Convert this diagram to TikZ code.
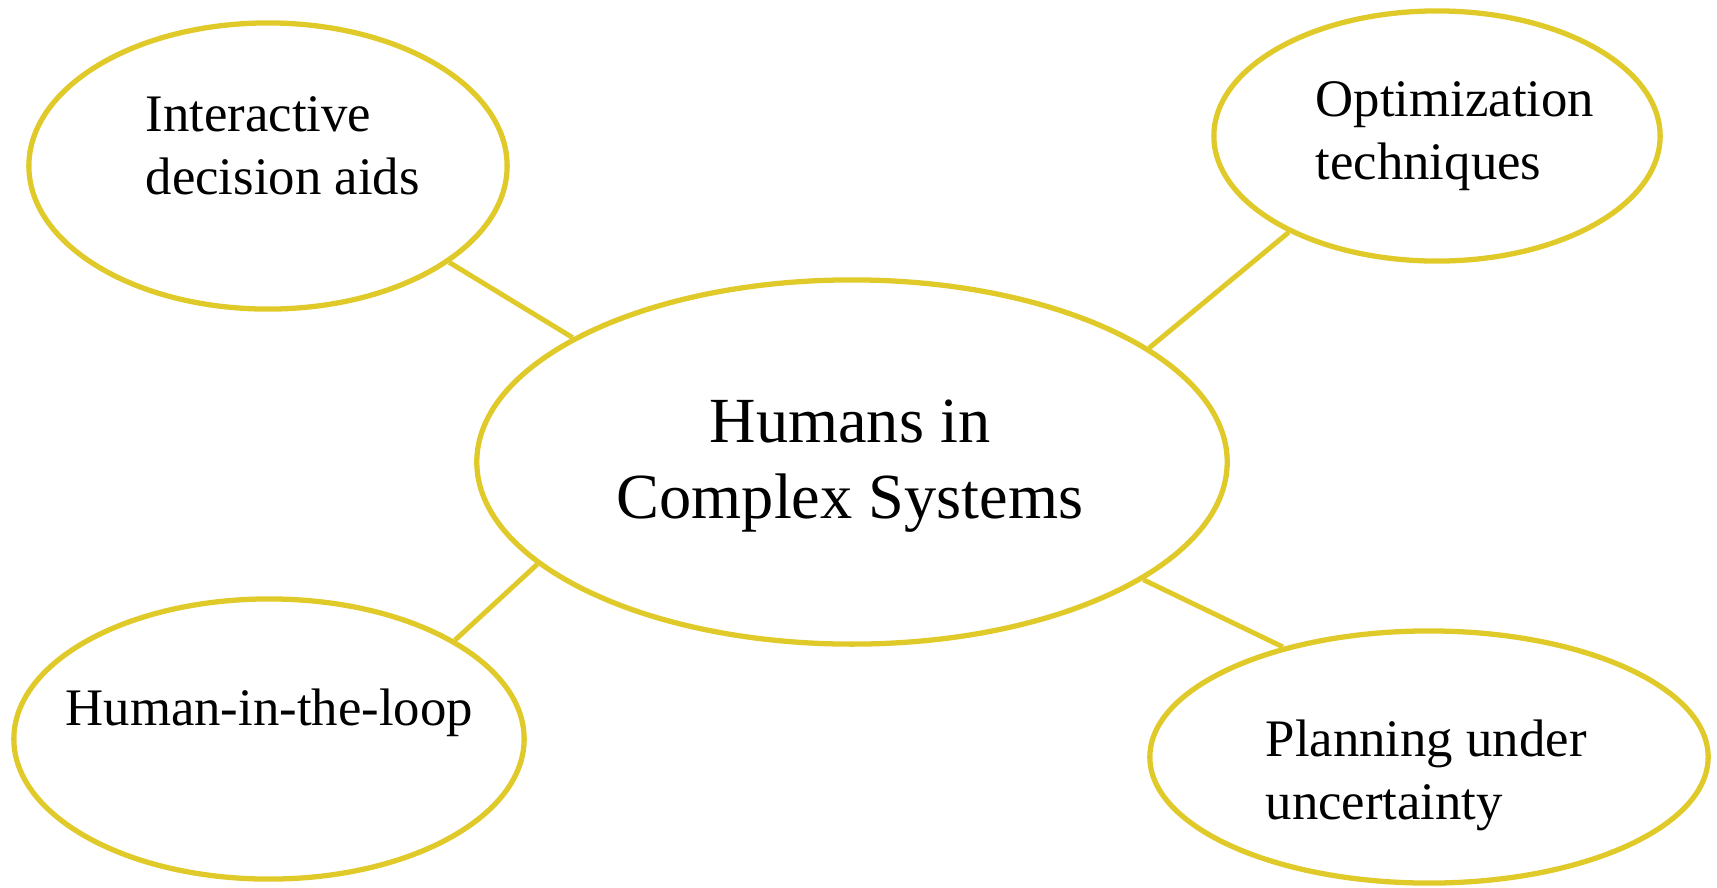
\documentclass[tikz,border=0pt]{standalone}
\usepackage{fontspec}
\setmainfont{Liberation Serif}
\usepackage{tikz}
\usetikzlibrary{shapes.geometric}
\definecolor{mapyellow}{RGB}{224,202,42}

\begin{document}
\begin{tikzpicture}[x=0.01cm, y=-0.01cm,
    topic/.style={ellipse, draw=mapyellow, line width=1.5pt, inner sep=0pt},
    link/.style={draw=mapyellow, line width=1.4pt},
    word/.style={inner sep=0pt, anchor=north west, align=left, font=\fontsize{15}{18}\selectfont}]
      \useasboundingbox (0,0) rectangle (1717,887);

      \node[topic, minimum width=7.50cm, minimum height=3.64cm] (hub) at (852,462) {};
      \node[topic, minimum width=4.78cm, minimum height=2.86cm] (aids) at (268,166) {};
      \node[topic, minimum width=4.46cm, minimum height=2.50cm] (optim) at (1437,136) {};
      \node[topic, minimum width=5.10cm, minimum height=2.80cm] (loop) at (269,739) {};
      \node[topic, minimum width=5.58cm, minimum height=2.52cm] (plan) at (1429,757) {};

      \node[inner sep=0pt, anchor=north, align=center, font=\fontsize{18.3}{21.6}\selectfont] (hub-text) at (850,399) {Humans in\\Complex Systems};
      \node[word] (aids-text) at (145,96) {Interactive\\decision aids};
      \node[word] (optim-text) at (1315,81) {Optimization\\techniques};
      \node[word] (loop-text) at (65,688) {Human-in-the-loop};
      \node[word] (plan-text) at (1265,719) {Planning under\\uncertainty};

      \draw[link] (hub.156.7) -- (aids.-28.6);
      \draw[link] (hub.21.8) -- (optim.213);
      \draw[link] (hub.198.7) -- (loop.28);
      \draw[link] (hub.-22.3) -- (plan.143.7);
    \end{tikzpicture}
\end{document}
